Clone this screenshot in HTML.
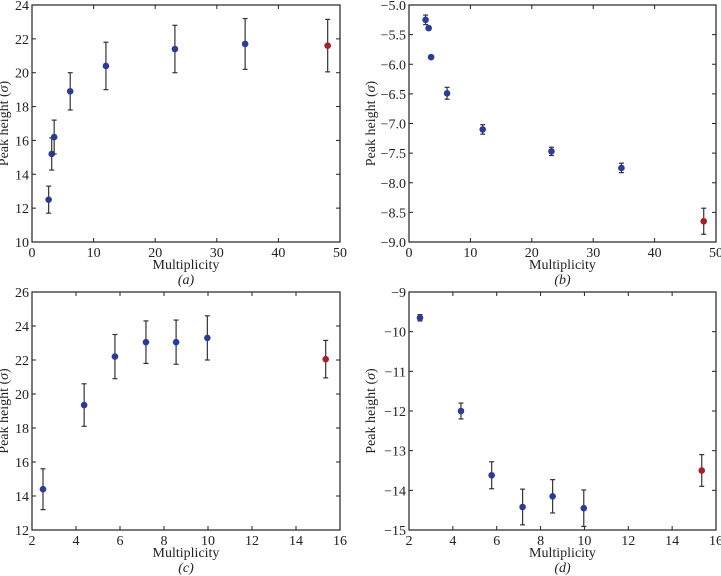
<!DOCTYPE html>
<html><head><meta charset="utf-8"><style>
body{margin:0;background:#fff;}
svg{display:block;font-family:"Liberation Serif","Times New Roman",serif;}
</style></head><body>
<svg id="fig" width="721" height="576"></svg>
<script>
const aX=[2.7,3.2,3.6,6.2,12,23.2,34.6,48];
const aY=[12.5,15.2,16.2,18.9,20.4,21.4,21.7,21.6];
const aE=[0.8,0.95,1.0,1.1,1.4,1.4,1.5,1.55];
const bY=[-5.25,-5.39,-5.88,-6.49,-7.1,-7.47,-7.75,-8.65];
const bE=[0.08,0.03,0.02,0.1,0.08,0.07,0.08,0.22];
const cX=[2.5,4.37,5.77,7.18,8.55,9.97,15.35];
const cY=[14.4,19.35,22.2,23.05,23.05,23.3,22.05];
const cE=[1.2,1.25,1.3,1.25,1.3,1.3,1.1];
const dY=[-9.65,-12.0,-13.62,-14.42,-14.15,-14.45,-13.5];
const dE=[0.08,0.2,0.34,0.45,0.42,0.46,0.4];
const abXTicks=[0,10,20,30,40,50];
const aYTicks=[10,12,14,16,18,20,22,24];
const bYTicks=[-9.0,-8.5,-8.0,-7.5,-7.0,-6.5,-6.0,-5.5,-5.0];
const cdXTicks=[2,4,6,8,10,12,14,16];
const cYTicks=[12,14,16,18,20,22,24,26];
const dYTicks=[-15,-14,-13,-12,-11,-10,-9];

const NS="http://www.w3.org/2000/svg";
const svg=document.getElementById('fig');
function mk(tag,attrs,parent){const e=document.createElementNS(NS,tag);for(const k in attrs)e.setAttribute(k,attrs[k]);(parent||svg).appendChild(e);return e;}

function panel(id,L,R,T,B,xs,ys,es,xt,yt,yfmt,letter,ylx){
  const g=mk('g',{});
  
  
  const x0=xt[0],x1=xt[xt.length-1],y0=yt[0],y1=yt[yt.length-1];
  const sx=v=>L+(v-x0)/(x1-x0)*(R-L);
  const sy=v=>B-(v-y0)/(y1-y0)*(B-T);
  const fr=mk('rect',{x:L,y:T,width:R-L,height:B-T,fill:'none',stroke:'#222','stroke-width':1.2},g);
  
  
  xt.forEach(v=>{const x=sx(v);
    mk('line',{x1:x,x2:x,y1:B,y2:B-4,stroke:'#222'},g);
    mk('line',{x1:x,x2:x,y1:T,y2:T+4,stroke:'#222'},g);
    const t=mk('text',{x:x,y:B+15,'text-anchor':'middle','font-size':14,fill:'#222'},g);t.textContent=v;
    
    
  });
  yt.forEach(v=>{const y=sy(v);
    mk('line',{x1:L,x2:L+4,y1:y,y2:y,stroke:'#222'},g);
    mk('line',{x1:R,x2:R-4,y1:y,y2:y,stroke:'#222'},g);
    const t=mk('text',{x:L-3,y:y+5,'text-anchor':'end','font-size':14,fill:'#222'},g);t.textContent=yfmt(v).replace('-','\u2212');
    
    
  });
  const xl=mk('text',{x:(L+R)/2,y:B+27,'text-anchor':'middle','font-size':14,fill:'#222'},g);xl.textContent='Multiplicity';
  
  
  const pl=mk('text',{x:(L+R)/2,y:B+42,'text-anchor':'middle','font-size':14,'font-style':'italic',fill:'#222'},g);pl.textContent='('+letter+')';
  
  
  const yl=mk('text',{x:ylx,y:(T+B)/2,'text-anchor':'middle','font-size':14,fill:'#222',transform:`rotate(-90 ${ylx} ${(T+B)/2})`},g);
  yl.innerHTML='Peak height (<tspan font-style="italic">σ</tspan>)';
  
  
  xs.forEach((v,i)=>{
    const x=sx(v),y=sy(ys[i]),yt2=sy(ys[i]+es[i]),yb=sy(ys[i]-es[i]);
    const last=i===xs.length-1;
    const eb=mk('g',{stroke:'#333','stroke-width':1.2},g);
    
    
    mk('line',{x1:x,x2:x,y1:yt2,y2:yb},eb);
    mk('line',{x1:x-2.5,x2:x+2.5,y1:yt2,y2:yt2},eb);
    mk('line',{x1:x-2.5,x2:x+2.5,y1:yb,y2:yb},eb);
    const c=mk('circle',{cx:x,cy:y,r:3.3,fill:last?'#a3212c':'#2c3a98'},g);
    
    
  });
}
const f0=v=>String(v), f1=v=>v.toFixed(1);
panel('a',32,340,5,242,aX,aY,aE,abXTicks,aYTicks,f0,'a',8);
panel('b',409,716,5,242,aX,bY,bE,abXTicks,bYTicks,f1,'b',375);
panel('c',32,340,292,530,cX,cY,cE,cdXTicks,cYTicks,f0,'c',8);
panel('d',409,716,292,530,cX,dY,dE,cdXTicks,dYTicks,f0,'d',375);
</script>
</body></html>
